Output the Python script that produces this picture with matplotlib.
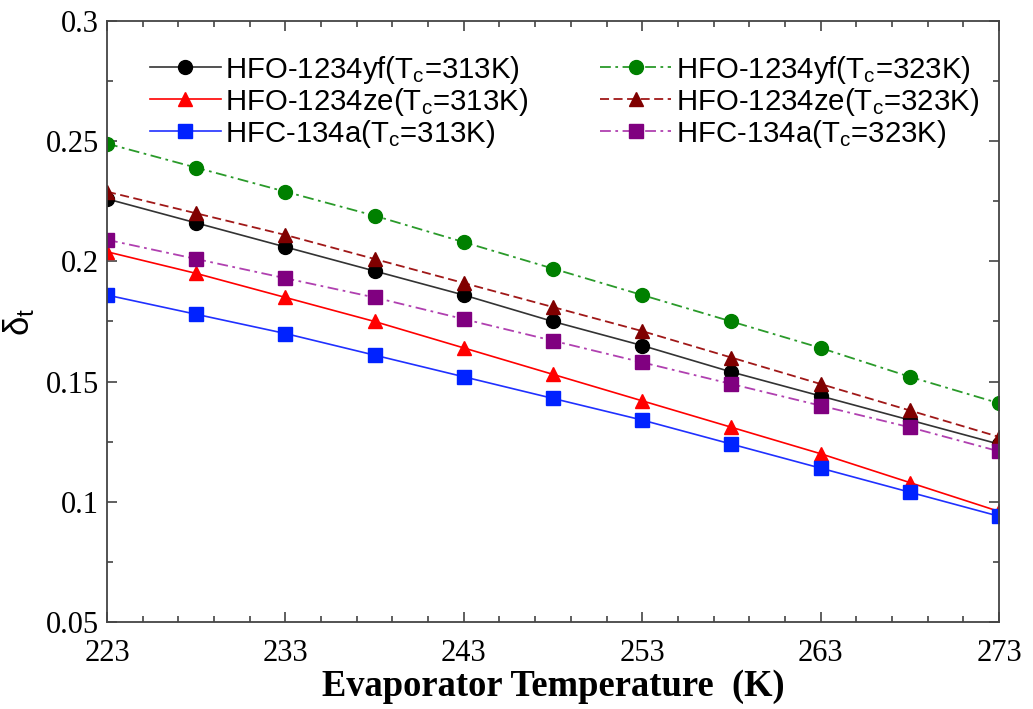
import numpy as np
import matplotlib.pyplot as plt
from matplotlib.ticker import FixedLocator

plt.rcParams['mathtext.default'] = 'regular'

T = [223, 228, 233, 238, 243, 248, 253, 258, 263, 268, 273]

yf_313 = [0.226, 0.216, 0.206, 0.196, 0.186, 0.175, 0.165, 0.154, 0.144, 0.134, 0.124]
ze_313 = [0.204, 0.195, 0.185, 0.175, 0.164, 0.153, 0.142, 0.131, 0.120, 0.108, 0.096]
r134a_313 = [0.186, 0.178, 0.170, 0.161, 0.152, 0.143, 0.134, 0.124, 0.114, 0.104, 0.094]
yf_323 = [0.249, 0.239, 0.229, 0.219, 0.208, 0.197, 0.186, 0.175, 0.164, 0.152, 0.141]
ze_323 = [0.229, 0.220, 0.211, 0.201, 0.191, 0.181, 0.171, 0.160, 0.149, 0.138, 0.127]
r134a_323 = [0.209, 0.201, 0.193, 0.185, 0.176, 0.167, 0.158, 0.149, 0.140, 0.131, 0.121]

labels_313 = ["HFO-1234yf(T$_c$=313K)", "HFO-1234ze(T$_c$=313K)", "HFC-134a(T$_c$=313K)"]
labels_323 = ["HFO-1234yf(T$_c$=323K)", "HFO-1234ze(T$_c$=323K)", "HFC-134a(T$_c$=323K)"]

xticks = [223, 233, 243, 253, 263, 273]
yticks = [0.05, 0.1, 0.15, 0.2, 0.25, 0.3]
ytick_labels = ["0.05", "0.1", "0.15", "0.2", "0.25", "0.3"]

fig = plt.figure(figsize=(10.33, 7.09), dpi=100)
ax = fig.add_axes([0.1036, 0.1227, 0.8635, 0.8477])

dashdot = (0, (6, 2.5, 1.5, 2.5))
h1 = []
h1.append(ax.plot(T, yf_313, c="#333333", lw=1.2, marker="o", ms=10, mfc="black", mec="black", label=labels_313[0])[0])
h1.append(ax.plot(T, ze_313, c="red", lw=1.2, marker="^", ms=10.5, label=labels_313[1])[0])
h1.append(ax.plot(T, r134a_313, c="#2030ff", lw=1.2, marker="s", ms=9.5, mfc="#0022ff", mec="#0022ff", label=labels_313[2])[0])
h2 = []
h2.append(ax.plot(T, yf_323, c="#2a9a2a", lw=1.3, ls=dashdot, marker="o", ms=10, mfc="green", mec="green", label=labels_323[0])[0])
h2.append(ax.plot(T, ze_323, c="#a01818", lw=1.3, ls=(0, (5, 2.5)), marker="^", ms=10.5, mfc="#800000", mec="#800000", label=labels_323[1])[0])
h2.append(ax.plot(T, r134a_323, c="#b040b0", lw=1.3, ls=dashdot, marker="s", ms=9.5, mfc="#800080", mec="#800080", label=labels_323[2])[0])

ax.set_xlim(223, 273)
ax.set_ylim(0.05, 0.3)
ax.set_xticks(xticks)
ax.xaxis.set_minor_locator(FixedLocator(np.arange(225, 273, 2)))
ax.set_yticks(yticks)
ax.set_yticklabels(ytick_labels)
ax.yaxis.set_minor_locator(FixedLocator(np.arange(0.075, 0.3, 0.05)))
ax.tick_params(which="both", direction="in", top=True, right=True, width=1.2, color="#444444")
ax.tick_params(which="major", length=7, labelsize=22)
ax.tick_params(axis="x", which="major", pad=12)
ax.tick_params(axis="y", which="major", pad=6)
ax.tick_params(which="minor", length=4)
for lab in ax.get_xticklabels() + ax.get_yticklabels():
    lab.set_family("Liberation Serif")
for s in ax.spines.values():
    s.set_linewidth(1.3)
    s.set_color("#444444")

ax.set_xlabel("Evaporator Temperature  (K)", family="Liberation Serif", weight="bold", fontsize=26.3, labelpad=1)
ax.set_ylabel("δ$_t$", family="Liberation Sans", fontsize=25, labelpad=6)

leg_kw = dict(loc="upper left", frameon=False, prop={"family": "Liberation Sans", "size": 21.2},
              labelspacing=0.0, handlelength=2.4, handletextpad=0.15, borderaxespad=0)
leg1 = ax.legend(handles=h1, bbox_to_anchor=(0.035, 0.965), **leg_kw)
ax.add_artist(leg1)
ax.legend(handles=h2, bbox_to_anchor=(0.54, 0.965), **leg_kw)

plt.savefig("out.png", dpi=100)
